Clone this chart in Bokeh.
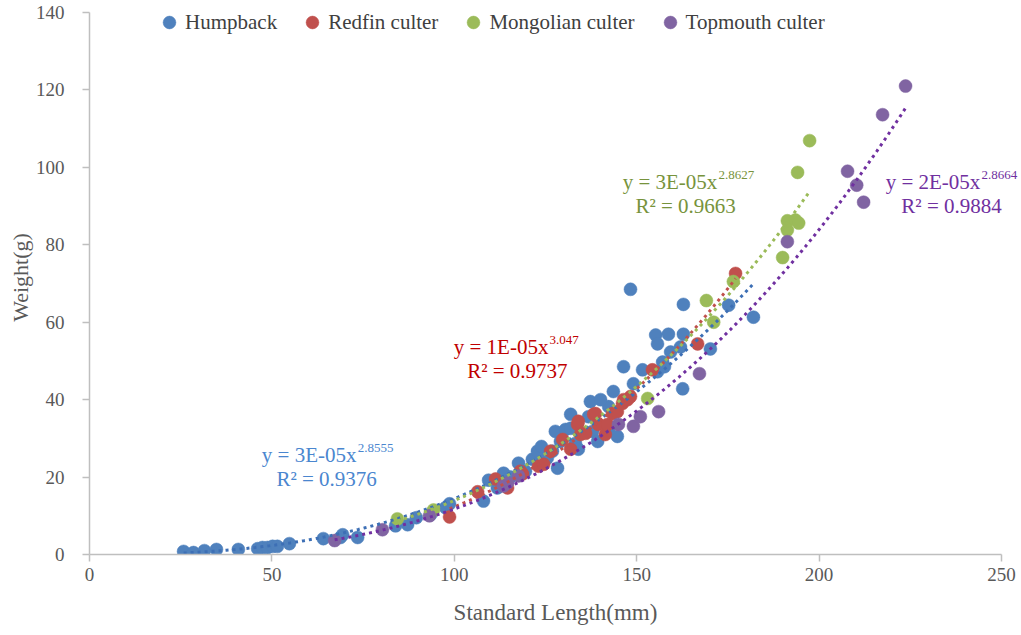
import numpy as np
from bokeh.plotting import figure
from bokeh.models import Legend, LegendItem, Label, FixedTicker, Range1d
from bokeh.embed import file_html
from bokeh.resources import INLINE

# ---------------- data ----------------
hump_x = [25.8, 28.5, 31.5, 34.8, 40.8, 46.1, 47.4, 48.8, 50.2, 51.5, 54.8, 64.1, 69.4, 68.8,
          73.5, 83.9, 87.2, 89.6, 93.5, 97.6, 98.7, 108.0, 109.4, 113.5, 115.4, 117.6, 119.5,
          121.4, 122.8, 125.5, 126.9, 127.7, 128.3, 130.5, 131.9, 131.9, 133.2, 134.0, 136.8,
          137.3, 137.9, 139.3, 142.3, 143.6, 142.3, 144.7, 146.4, 149.1, 151.6, 148.3, 155.2,
          158.7, 162.8, 155.7, 159.3, 157.1, 155.7, 157.6, 162.8, 175.2, 182.0, 170.2, 162.6,
          140.1, 162.0, 111.8, 123.9, 129.1]
hump_y = [0.8, 0.5, 1.0, 1.3, 1.3, 1.5, 1.8, 1.8, 2.1, 2.1, 2.8, 4.1, 5.1, 4.4,
          4.4, 7.4, 7.7, 9.5, 10.3, 12.1, 13.1, 13.8, 19.2, 21.0, 20.0, 23.6, 21.5,
          24.6, 26.7, 24.9, 26.7, 31.8, 22.3, 32.3, 36.2, 32.6, 28.7, 27.2, 35.6,
          39.5, 31.8, 29.2, 32.3, 42.1, 38.2, 30.5, 48.5, 44.1, 47.7, 68.5, 56.7,
          56.9, 56.9, 54.4, 52.3, 49.7, 47.2, 48.5, 64.6, 64.4, 61.3, 53.1, 42.8,
          40.0, 53.6, 17.2, 27.9, 29.2]

red_x = [98.7, 106.4, 111.3, 114.6, 118.1, 118.7, 123.1, 124.5, 126.4, 129.7, 131.9, 133.8,
         134.0, 134.6, 136.0, 138.2, 138.7, 139.5, 141.4, 142.0, 143.4, 144.7, 146.1, 147.5,
         148.3, 146.4, 154.3, 166.7, 177.1]
red_y = [9.7, 16.2, 19.5, 17.2, 21.5, 20.8, 22.8, 23.3, 26.7, 29.7, 27.2, 33.6,
         34.4, 31.0, 31.3, 36.2, 36.4, 33.6, 31.0, 33.6, 36.4, 36.9, 39.0, 40.0,
         40.8, 40.0, 47.7, 54.4, 72.6]

green_x = [84.4, 94.3, 153.0, 169.1, 171.1, 176.5, 190.0, 191.3, 191.3, 193.5, 194.4, 194.1, 197.4]
green_y = [9.2, 11.5, 40.3, 65.6, 60.0, 70.5, 76.7, 83.8, 86.2, 86.4, 85.6, 98.7, 106.9]

purple_x = [67.2, 80.3, 93.2, 113.5, 117.6, 114.6, 145.0, 149.1, 151.0, 156.0, 167.2,
            191.3, 207.8, 210.3, 212.2, 217.4, 223.7]
purple_y = [3.6, 6.4, 10.0, 17.7, 20.3, 18.5, 33.6, 33.1, 35.6, 36.9, 46.7,
            80.8, 99.0, 95.4, 91.0, 113.6, 121.0]

series_names = ["Humpback", "Redfin culter", "Mongolian culter", "Topmouth culter"]
eq_base = ["y = 3E-05x", "y = 1E-05x", "y = 3E-05x", "y = 2E-05x"]
eq_exp = ["2.8555", "3.047", "2.8627", "2.8664"]
eq_r2 = ["R² = 0.9376", "R² = 0.9737", "R² = 0.9663", "R² = 0.9884"]
x_ticks = [0, 50, 100, 150, 200, 250]
y_ticks = [0, 20, 40, 60, 80, 100, 120, 140]

# ---------------- styling ----------------
colors = ["#4F81BD", "#C0504D", "#9BBB59", "#8064A2"]
line_colors = ["#3D6FB5", "#C0504D", "#9BBB59", "#7030A0"]
text_colors = ["#4A86CF", "#C00000", "#77933C", "#7030A0"]
FONT = "Liberation Serif"

# equation label positions (data units): base right end, superscript left, R2 centre
eq_pos = [
    ((73.2, 25.6), (73.5, 27.5), (65.0, 19.6)),
    ((125.8, 53.5), (126.1, 55.4), (117.3, 47.5)),
    ((172.1, 96.1), (172.4, 98.0), (163.4, 90.1)),
    ((244.2, 96.1), (244.5, 98.0), (236.3, 90.1)),
]

p = figure(width=1021, height=635, output_backend="svg", toolbar_location=None,
           x_range=Range1d(0, 255.48), y_range=Range1d(0, 143.1),
           min_border_left=89, min_border_right=0, min_border_top=0, min_border_bottom=81)
p.outline_line_color = None
p.xgrid.grid_line_color = None
p.ygrid.grid_line_color = None
p.background_fill_color = "white"
p.border_fill_color = "white"

for ax in (p.xaxis[0], p.yaxis[0]):
    ax.axis_line_color = "#BFBFBF"
    ax.axis_line_width = 1.5
    ax.major_tick_line_color = "#BFBFBF"
    ax.major_tick_line_width = 1.5
    ax.major_tick_in = 0
    ax.major_tick_out = 7
    ax.minor_tick_line_color = None
    ax.major_label_text_font = FONT
    ax.major_label_text_font_size = "19px"
    ax.major_label_text_color = "#595959"
    ax.axis_label_text_font = FONT
    ax.axis_label_text_font_style = "normal"
    ax.axis_label_text_color = "#595959"

p.xaxis.bounds = (0, 250)
p.yaxis.bounds = (0, 140)
p.xaxis.ticker = FixedTicker(ticks=x_ticks)
p.yaxis.ticker = FixedTicker(ticks=y_ticks)
p.xaxis.axis_label = "Standard Length(mm)"
p.yaxis.axis_label = "Weight(g)"
p.xaxis.axis_label_text_font_size = "23px"
p.yaxis.axis_label_text_font_size = "22px"
p.xaxis.major_label_standoff = 6
p.yaxis.major_label_standoff = 18
p.xaxis.axis_label_standoff = 16
p.yaxis.axis_label_standoff = 0

xs_all = [hump_x, red_x, green_x, purple_x]
ys_all = [hump_y, red_y, green_y, purple_y]

renderers = []
for xs, ys, c in zip(xs_all, ys_all, colors):
    r = p.scatter(xs, ys, size=13, fill_color=c, line_color=c, line_width=0.5)
    renderers.append(r)

# power-law trendlines fitted to the data (as Excel does: least squares in log-log)
for xs, ys, c in zip(xs_all, ys_all, line_colors):
    lx, ly = np.log(np.array(xs)), np.log(np.array(ys))
    b, a = np.polyfit(lx, ly, 1)
    tx = np.linspace(min(xs), max(xs), 200)
    ty = np.exp(a) * tx ** b
    p.line(tx, ty, line_color=c, line_width=3, line_dash="3 4")

for i in range(4):
    (bx, by), (sx, sy), (rx, ry) = eq_pos[i]
    p.add_layout(Label(x=bx, y=by, text=eq_base[i], text_align="right", text_baseline="middle",
                       text_font=FONT, text_font_size="21px", text_color=text_colors[i]))
    p.add_layout(Label(x=sx, y=sy, text=eq_exp[i], text_align="left", text_baseline="middle",
                       text_font=FONT, text_font_size="13px", text_color=text_colors[i]))
    p.add_layout(Label(x=rx, y=ry, text=eq_r2[i], text_align="center", text_baseline="middle",
                       text_font=FONT, text_font_size="21px", text_color=text_colors[i]))

legend = Legend(items=[LegendItem(label=n, renderers=[r]) for n, r in zip(series_names, renderers)],
                orientation="horizontal", location=(64, 516),
                background_fill_alpha=0, border_line_color=None,
                label_text_font=FONT, label_text_font_size="21px", label_text_color="#404040",
                glyph_width=32, glyph_height=32, label_standoff=-6, spacing=19,
                padding=0, margin=0)
p.add_layout(legend)

open("out.html", "w").write(file_html(p, INLINE))
